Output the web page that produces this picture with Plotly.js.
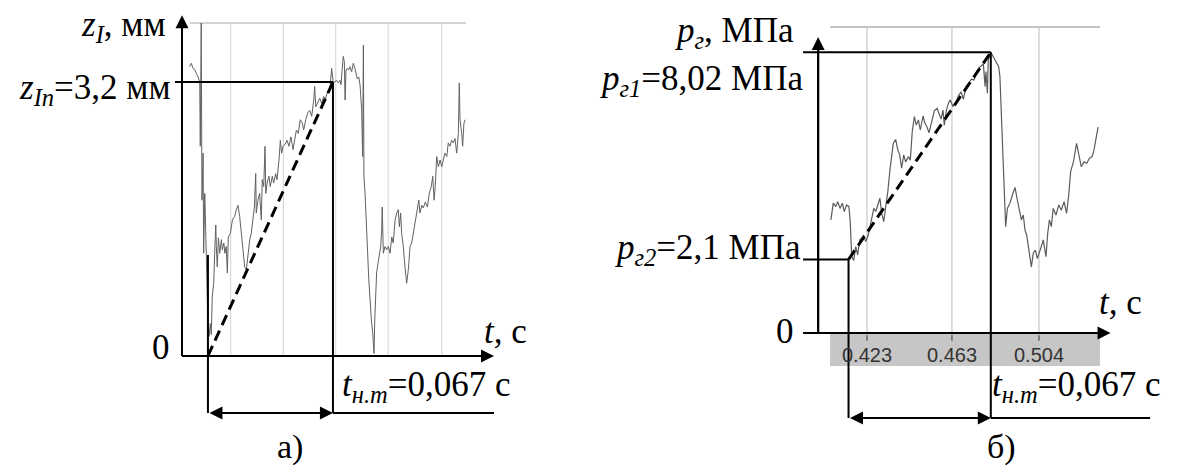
<!DOCTYPE html>
<html>
<head>
<meta charset="utf-8">
<script src="https://cdn.plot.ly/plotly-3.0.1.min.js"></script>
<style>
  html, body { margin: 0; padding: 0; background: #ffffff; }
  #chart { width: 1179px; height: 472px; }
  #chart .annotation-text { font-family: 'Liberation Serif' !important; }
  #chart .annotation-text .scale { font-family: 'Liberation Sans' !important; }
</style>
</head>
<body>
<div id="chart"></div>
<script>
// ---- а) displacement z_I versus time ----
const tA = [0.0041,0.0050,0.0059,0.0068,0.0077,0.0086,0.0095,0.0098,0.0103,0.0107,
  0.0113,0.0116,0.0122,0.0127,0.0130,0.0139,0.0145,0.0152,0.0157,0.0162,
  0.0170,0.0175,0.0181,0.0184,0.0189,0.0195,0.0202,0.0211,0.0216,0.0224,
  0.0230,0.0237,0.0243,0.0248,0.0259,0.0270,0.0282,0.0291,0.0300,0.0309,
  0.0318,0.0327,0.0336,0.0345,0.0354,0.0363,0.0371,0.0381,0.0388,0.0395,
  0.0398,0.0407,0.0416,0.0425,0.0430,0.0438,0.0445,0.0449,0.0456,0.0466,
  0.0473,0.0484,0.0491,0.0502,0.0509,0.0520,0.0527,0.0534,0.0541,0.0552,
  0.0563,0.0573,0.0584,0.0595,0.0604,0.0613,0.0623,0.0634,0.0645,0.0652,
  0.0663,0.0674,0.0684,0.0695,0.0706,0.0711,0.0717,0.0727,0.0738,0.0749,
  0.0759,0.0770,0.0781,0.0792,0.0802,0.0811,0.0829,0.0838,0.0847,0.0852,
  0.0857,0.0864,0.0870,0.0874,0.0879,0.0886,0.0893,0.0900,0.0909,0.0918,
  0.0927,0.0939,0.0947,0.0954,0.0963,0.0968,0.0972,0.0975,0.0981,0.0986,
  0.0990,0.0995,0.1001,0.1008,0.1015,0.1022,0.1029,0.1033,0.1038,0.1043,
  0.1050,0.1057,0.1065,0.1070,0.1073,0.1079,0.1088,0.1097,0.1106,0.1115,
  0.1124,0.1132,0.1142,0.1151,0.1159,0.1165,0.1172,0.1177,0.1186,0.1195,
  0.1204,0.1213,0.1222,0.1231,0.1240,0.1250,0.1261,0.1269,0.1275,0.1285,
  0.1293,0.1304,0.1315,0.1325,0.1336,0.1344,0.1351,0.1357,0.1365,0.1374,
  0.1383,0.1392,0.1400,0.1409,0.1419,0.1427,0.1436,0.1445,0.1454,0.1463,
  0.1472,0.1481,0.1486,0.1490,0.1499,0.1504,0.1511,0.1518];
const zA = [3.38,3.42,3.36,3.35,3.30,3.26,3.20,2.45,3.89,1.82,
  2.37,1.20,1.90,1.55,1.20,0.34,0.23,0.38,0.25,0.69,
  0.85,1.20,1.53,1.28,1.04,1.38,1.20,1.36,1.24,1.32,
  1.20,1.28,0.97,1.39,1.43,1.59,1.63,1.71,1.76,1.63,
  1.43,1.20,1.04,1.01,1.20,1.36,1.43,1.59,1.74,2.13,
  1.67,1.82,1.90,1.59,2.06,1.98,2.45,1.90,2.02,2.10,
  1.98,2.10,2.02,2.13,2.06,2.29,2.52,2.37,2.45,2.47,
  2.52,2.45,2.56,2.41,2.52,2.64,2.60,2.76,2.72,2.64,
  2.76,2.84,2.87,2.80,2.99,3.15,2.91,2.95,3.01,2.95,
  3.03,3.01,3.09,3.11,3.36,3.19,3.22,3.19,3.22,3.17,
  3.28,3.50,3.44,2.99,3.34,3.36,3.34,3.38,3.32,3.42,
  3.36,3.24,3.26,3.17,2.87,2.33,3.63,2.10,1.90,1.59,
  1.28,1.20,0.89,0.58,0.42,0.27,0.03,0.42,0.73,0.97,
  1.08,1.20,1.28,1.47,1.74,1.20,1.28,1.24,1.28,1.20,
  1.39,1.32,1.59,1.67,1.71,1.51,1.67,1.43,1.28,1.04,
  0.85,1.01,1.28,1.32,1.43,1.59,1.71,1.82,1.67,1.76,
  1.73,1.80,1.74,1.90,1.98,2.10,1.82,1.98,2.33,2.21,
  2.29,2.21,2.29,2.37,2.33,2.49,2.45,2.52,2.49,2.54,
  2.37,2.60,3.19,2.76,2.60,2.45,2.72,2.76];
const gridA = [0.0261, 0.0543, 0.0824, 0.1105, 0.1392];   // recorder grid, panel а
const zTopA = 3.89;                                       // recorder frame top, mm
const zIn = 3.2;      // z_In, мм
const tA0 = 0.0139;   // start of the rise, s

// ---- б) pressure p_г versus time ----
const tB = [0.4060,0.4071,0.4083,0.4092,0.4103,0.4114,0.4123,0.4134,0.4145,0.4151,
  0.4158,0.4167,0.4177,0.4186,0.4196,0.4205,0.4214,0.4224,0.4236,0.4249,
  0.4262,0.4271,0.4283,0.4291,0.4299,0.4309,0.4318,0.4328,0.4338,0.4346,
  0.4354,0.4365,0.4375,0.4384,0.4393,0.4403,0.4412,0.4425,0.4434,0.4443,
  0.4453,0.4462,0.4472,0.4481,0.4494,0.4503,0.4513,0.4522,0.4535,0.4547,
  0.4560,0.4569,0.4579,0.4588,0.4594,0.4604,0.4613,0.4622,0.4635,0.4648,
  0.4660,0.4673,0.4684,0.4696,0.4709,0.4721,0.4734,0.4747,0.4759,0.4768,
  0.4778,0.4786,0.4790,0.4797,0.4801,0.4813,0.4825,0.4838,0.4850,0.4856,
  0.4863,0.4869,0.4875,0.4883,0.4891,0.4903,0.4916,0.4927,0.4938,0.4947,
  0.4957,0.4966,0.4974,0.4982,0.4990,0.4998,0.5004,0.5013,0.5023,0.5032,
  0.5041,0.5051,0.5060,0.5073,0.5081,0.5089,0.5098,0.5107,0.5120,0.5133,
  0.5145,0.5158,0.5170,0.5180,0.5189,0.5202,0.5217,0.5227,0.5239,0.5252,
  0.5265,0.5277,0.5290,0.5299,0.5308,0.5318];
const pB = [3.23,3.71,3.61,3.75,3.56,3.71,3.47,3.66,3.61,3.18,
  2.18,2.07,2.47,2.23,2.66,2.71,2.80,2.61,2.80,3.18,
  3.56,3.47,3.71,3.85,3.42,3.18,3.61,4.04,4.66,5.13,
  5.42,5.53,5.23,5.09,4.71,5.09,4.89,5.04,4.94,5.75,
  6.18,5.94,6.09,5.80,6.20,5.99,5.88,5.72,6.09,6.35,
  6.42,6.26,6.11,6.37,5.94,6.37,6.56,6.66,6.47,6.58,
  6.77,6.89,6.68,7.04,7.13,7.25,7.23,7.47,7.59,7.63,
  7.69,7.04,7.47,6.85,7.80,8.02,7.89,7.78,7.61,7.32,
  6.18,4.75,3.94,3.04,3.56,3.71,3.97,4.16,3.80,3.56,
  3.23,3.37,2.94,2.80,2.47,2.13,1.89,2.28,2.37,2.13,
  2.28,2.47,2.66,2.18,2.85,3.23,3.04,3.56,3.37,3.66,
  3.51,3.75,3.42,3.94,4.61,4.89,5.42,5.09,4.75,4.89,
  4.85,4.99,5.04,5.23,5.56,5.88];
const tickB = [0.423, 0.463, 0.504];
const tickLabelsB = ['0.423', '0.463', '0.504'];
const pTopB = 8.74;                       // recorder frame top, MPa
const bandB = [0.4056, 0.5327];           // time span of the recorder scale strip
const pG1 = 8.02;     // p_г1, МПа
const pG2 = 2.1;      // p_г2, МПа
const tB1 = 0.4813;   // time of the pressure peak, s

const tNT = 0.067;    // t_н.т, с

// ---- page geometry ----
const W = 1179, H = 472;
const px = v => v / W;
const py = v => 1 - v / H;

const serifFont = 'Liberation Serif';
const FS = 35;

// axis reach (beyond the data) for each panel
const A = { xAxisEnd: 0.1672, yAxisEnd: 3.98, hLeft: -0.0038, low: -0.666, bottomEnd: 0.1672, riseTop: 1.18 };
const B = { yAxisX: 0.400, xAxisStart: 0.3929, xAxisEnd: 0.5377, yAxisEnd: 8.46, low: -2.43, bottomEnd: 0.5563, band: -0.943 };

const black = { color: '#000', width: 2 };
function seg(xr, yr, x0, y0, x1, y1, line, layer) {
  return { type: 'line', xref: xr, yref: yr, x0, y0, x1, y1, line, layer: layer || 'above' };
}

const shapes = [];
// panel а: recorder frame and grid
shapes.push(seg('x', 'y', 0.0043, zTopA, 0.1522, zTopA, { color: '#c4c4c4', width: 1.5 }, 'below'));
gridA.forEach(g => shapes.push(seg('x', 'y', g, 0, g, zTopA, { color: '#d2d2d2', width: 1 }, 'below')));
// panel а: axes and construction lines
shapes.push(seg('x', 'y', 0, 0, 0, A.yAxisEnd - 0.1, black));
shapes.push(seg('x', 'y', 0, 0, A.xAxisEnd - 0.005, 0, black));
shapes.push(seg('x', 'y', A.hLeft, zIn, tA0 + tNT, zIn, black));
shapes.push(seg('x', 'y', tA0 + tNT, zIn, tA0 + tNT, A.low, black));
shapes.push(seg('x', 'y', tA0 + tNT, A.low, A.bottomEnd, A.low, black));
shapes.push(seg('x', 'y', tA0, A.riseTop, tA0, A.low, black));
shapes.push(seg('x', 'y', tA0, 0, tA0 + tNT, zIn, { color: '#000', width: 3, dash: '11px,6px' }));

// panel б: recorder scale strip, frame and grid
shapes.push({ type: 'rect', xref: 'x2', yref: 'y2', x0: bandB[0], x1: bandB[1], y0: B.band, y1: 0,
  fillcolor: '#c6c6c6', line: { width: 0 }, layer: 'below' });
shapes.push(seg('x2', 'y2', bandB[0], pTopB, bandB[1], pTopB, { color: '#c4c4c4', width: 2 }, 'below'));
tickB.forEach(g => {
  shapes.push(seg('x2', 'y2', g, 0, g, pTopB, { color: '#d2d2d2', width: 1.5 }, 'below'));
  shapes.push(seg('x2', 'y2', g, -0.06, g, -0.22, { color: '#333', width: 1 }, 'below'));
});
// panel б: axes and construction lines
shapes.push(seg('x2', 'y2', B.yAxisX, 0, B.yAxisX, B.yAxisEnd - 0.25, black));
shapes.push(seg('x2', 'y2', B.xAxisStart, 0, B.xAxisEnd - 0.004, 0, black));
shapes.push(seg('x2', 'y2', B.xAxisStart, pG1, tB1, pG1, black));
shapes.push(seg('x2', 'y2', B.xAxisStart, pG2, tB1 - tNT, pG2, black));
shapes.push(seg('x2', 'y2', tB1, pG1, tB1, B.low, black));
shapes.push(seg('x2', 'y2', tB1 - tNT, pG2, tB1 - tNT, B.low, black));
shapes.push(seg('x2', 'y2', tB1, B.low, B.bottomEnd, B.low, black));
shapes.push(seg('x2', 'y2', tB1 - tNT, pG2, tB1, pG1, { color: '#000', width: 3, dash: '11px,6px' }));

function arrow(xr, yr, x, y, ax, ay, both) {
  return { xref: xr, yref: yr, axref: xr, ayref: yr, x, y, ax, ay, text: '', showarrow: true,
    arrowhead: 2, arrowsize: 1.3, arrowwidth: 2, arrowcolor: '#000',
    arrowside: both ? 'end+start' : 'end', standoff: 0, startstandoff: 0 };
}
function label(text, x, y, xanchor, size) {
  return { xref: 'paper', yref: 'paper', x: px(x), y: py(y), text, showarrow: false,
    xanchor, yanchor: 'middle', font: { family: serifFont, size: size || FS, color: '#000' } };
}

const annotations = [
  // arrows
  arrow('x', 'y', 0, A.yAxisEnd, 0, 0),
  arrow('x', 'y', A.xAxisEnd, 0, 0, 0),
  arrow('x', 'y', tA0 + tNT, A.low, tA0, A.low, true),
  arrow('x2', 'y2', B.yAxisX, B.yAxisEnd, B.yAxisX, 0),
  arrow('x2', 'y2', B.xAxisEnd, 0, B.xAxisStart, 0),
  arrow('x2', 'y2', tB1, B.low, tB1 - tNT, B.low, true),
  // panel а text
  label('<i>z<sub>I</sub></i>, мм', 168, 27, 'right'),
  label('<i>z<sub>In</sub></i>=3,2 мм', 173, 90, 'right'),
  label('0', 161, 347, 'center'),
  label('<i>t,</i> с', 482, 331, 'left'),
  label('<i>t<sub>н.т</sub></i>=0,067 с', 340, 386, 'left'),
  label('а)', 290, 447, 'center', 34),
  // panel б text
  label('<i>p<sub>г</sub></i>, МПа', 796, 32, 'right'),
  label('<i>p<sub>г1</sub></i>=8,02 МПа', 805, 80, 'right'),
  label('<i>p<sub>г2</sub></i>=2,1 МПа', 803, 249, 'right'),
  label('0', 785, 331, 'center'),
  label('<i>t,</i> с', 1097, 302, 'left'),
  label('<i>t<sub>н.т</sub></i>=0,067 с', 990, 386, 'left'),
  label('б)', 1001, 447, 'center', 34)
];
// recorder scale labels keep the instrument's sans face
tickB.forEach((t, i) => annotations.push({ xref: 'x2', yref: 'y2', x: t, y: -0.62,
  text: '<span class="scale" style="font-family:Liberation Sans">' + tickLabelsB[i] + '</span>',
  showarrow: false, xanchor: 'center', yanchor: 'middle',
  font: { family: 'Liberation Sans', size: 20, color: '#333' } }));

const traces = [
  { x: tA, y: zA, xaxis: 'x', yaxis: 'y', type: 'scatter', mode: 'lines',
    line: { color: '#616161', width: 1 }, hoverinfo: 'skip' },
  { x: tB, y: pB, xaxis: 'x2', yaxis: 'y2', type: 'scatter', mode: 'lines',
    line: { color: '#5c5c5c', width: 1.2 }, hoverinfo: 'skip' }
];

const hidden = { visible: false, showgrid: false, zeroline: false, fixedrange: true };
const layout = {
  width: W, height: H,
  margin: { l: 0, r: 0, t: 0, b: 0 },
  paper_bgcolor: '#ffffff', plot_bgcolor: 'rgba(0,0,0,0)',
  showlegend: false,
  font: { family: serifFont },
  xaxis: Object.assign({ domain: [px(150), px(510)], range: [-0.017149, 0.175777], anchor: 'y' }, hidden),
  yaxis: Object.assign({ domain: [py(425), py(5)], range: [-0.80607, 4.10047], anchor: 'x' }, hidden),
  xaxis2: Object.assign({ domain: [px(790), px(1170)], range: [0.386739, 0.565689], anchor: 'y2' }, hidden),
  yaxis2: Object.assign({ domain: [py(425), py(5)], range: [-2.62857, 9.37143], anchor: 'x2' }, hidden),
  shapes, annotations
};

Plotly.newPlot('chart', traces, layout, { staticPlot: true, displayModeBar: false });
</script>
</body>
</html>
